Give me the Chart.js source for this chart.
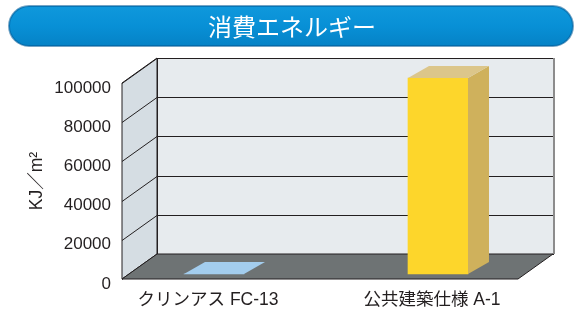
<!DOCTYPE html>
<html>
<head>
<meta charset="utf-8">
<script src="https://cdn.jsdelivr.net/npm/chart.js@4"></script>
<style>
  html, body { margin: 0; padding: 0; background: #ffffff; }
  #wrap { width: 575px; height: 317px; position: relative; }
</style>
</head>
<body>
<div id="wrap"><canvas id="chart"></canvas></div>
<script>
/* Consumo de energía — barras 3D */

const chartTitle  = '消費エネルギー';
const categories  = ['クリンアス FC-13', '公共建築仕様 A-1'];
const energyVals  = [0, 100000];
const yTickVals   = [0, 20000, 40000, 60000, 80000, 100000];
const yAxisLabel  = 'KJ／m²';

const FRONT_COLORS = ['#a3cdee', '#fdd62b'];
const TOP_COLORS   = ['#a3cdee', '#dcc68a'];
const SIDE_COLORS  = ['#a3cdee', '#cfb15c'];

const INK   = '#231f20';
const FONT  = '"Liberation Sans", "Noto Sans CJK JP", sans-serif';

// profundidad de la "caja" y de las barras
const ROOM_DX = 35, ROOM_DY = -25;
const BAR_SHIFT_X = 6, BAR_SHIFT_Y = -5;
const BAR_DX = 21, BAR_DY = -12;

const titlePill = {
  id: 'titlePill',
  beforeDraw(chart) {
    const { ctx, width } = chart;
    const x = 9, y = 6, w = width - 11, h = 40, r = 20;
    ctx.save();
    const g = ctx.createLinearGradient(0, y, 0, y + h);
    g.addColorStop(0,    '#0f98dc');
    g.addColorStop(0.5,  '#0890d6');
    g.addColorStop(1,    '#0582c6');
    ctx.beginPath();
    ctx.roundRect(x, y, w, h, r);
    ctx.fillStyle = g;
    ctx.fill();
    ctx.lineWidth = 2;
    ctx.strokeStyle = 'rgba(2, 90, 150, 0.55)';
    ctx.stroke();
    ctx.fillStyle = '#ffffff';
    ctx.font = '24px "Noto Sans CJK JP", sans-serif';
    ctx.textAlign = 'center';
    ctx.textBaseline = 'middle';
    ctx.fillText(chartTitle, 292, y + h / 2 + 1);
    ctx.restore();
  }
};

const room3d = {
  id: 'room3d',
  beforeDatasetsDraw(chart) {
    const { ctx, chartArea: { left, right, top, bottom }, scales: { y } } = chart;
    ctx.save();
    ctx.lineWidth = 1;
    ctx.strokeStyle = INK;

    // pared izquierda
    ctx.beginPath();
    ctx.moveTo(left, bottom);
    ctx.lineTo(left, top);
    ctx.lineTo(left + ROOM_DX, top + ROOM_DY);
    ctx.lineTo(left + ROOM_DX, bottom + ROOM_DY);
    ctx.closePath();
    ctx.fillStyle = '#d5dde3';
    ctx.fill();
    ctx.stroke();

    // pared del fondo
    ctx.fillStyle = '#e7ebee';
    ctx.fillRect(left + ROOM_DX, top + ROOM_DY, right - left, bottom - top);
    ctx.strokeRect(left + ROOM_DX + 0.5, top + ROOM_DY + 0.5, right - left, bottom - top);
    ctx.save();
    ctx.strokeStyle = '#8c8c8c';
    ctx.lineWidth = 2;
    ctx.beginPath();
    ctx.moveTo(right + ROOM_DX + 1, top + ROOM_DY);
    ctx.lineTo(right + ROOM_DX + 1, bottom + ROOM_DY);
    ctx.stroke();
    ctx.restore();

    // líneas de cuadrícula
    yTickVals.forEach(v => {
      const py = Math.round(y.getPixelForValue(v)) + 0.5;
      ctx.beginPath();
      ctx.moveTo(left, py);
      ctx.lineTo(left + ROOM_DX, py + ROOM_DY);
      ctx.lineTo(right + ROOM_DX, py + ROOM_DY);
      ctx.stroke();
    });

    // suelo
    ctx.beginPath();
    ctx.moveTo(left, bottom);
    ctx.lineTo(right, bottom);
    ctx.lineTo(right + ROOM_DX, bottom + ROOM_DY);
    ctx.lineTo(left + ROOM_DX, bottom + ROOM_DY);
    ctx.closePath();
    ctx.fillStyle = '#6e7374';
    ctx.fill();
    ctx.stroke();

    ctx.restore();

    // las barras se dibujan un poco hacia el fondo
    ctx.save();
    ctx.translate(BAR_SHIFT_X, BAR_SHIFT_Y);
  },
  afterDatasetsDraw(chart) {
    const { ctx } = chart;
    const meta = chart.getDatasetMeta(0);
    meta.data.forEach((bar, i) => {
      const { x, y, base, width } = bar.getProps(['x', 'y', 'base', 'width'], true);
      const xl = x - width / 2, xr = x + width / 2;
      // lateral
      if (base - y > 0.5) {
        ctx.beginPath();
        ctx.moveTo(xr, y);
        ctx.lineTo(xr + BAR_DX, y + BAR_DY);
        ctx.lineTo(xr + BAR_DX, base + BAR_DY);
        ctx.lineTo(xr, base);
        ctx.closePath();
        ctx.fillStyle = SIDE_COLORS[i];
        ctx.fill();
      }
      // tapa
      ctx.beginPath();
      ctx.moveTo(xl, y);
      ctx.lineTo(xr, y);
      ctx.lineTo(xr + BAR_DX, y + BAR_DY);
      ctx.lineTo(xl + BAR_DX, y + BAR_DY);
      ctx.closePath();
      ctx.fillStyle = TOP_COLORS[i];
      ctx.fill();
    });
    ctx.restore();
  }
};

new Chart(document.getElementById('chart'), {
  type: 'bar',
  data: {
    datasets: [{
      data: energyVals.map((v, i) => ({ x: i, y: v })),
      backgroundColor: FRONT_COLORS,
      borderWidth: 0,
      barThickness: 60,
      clip: false,
    }]
  },
  options: {
    responsive: true,
    maintainAspectRatio: false,
    animation: false,
    layout: { padding: { left: 20, right: 57, top: 83, bottom: 0 } },
    plugins: {
      legend:  { display: false },
      tooltip: { enabled: false },
    },
    scales: {
      x: {
        type: 'linear',
        offset: false,
        min: -0.384,
        max: 1.384,
        grid:   { display: false, drawTicks: false },
        border: { display: false },
        afterBuildTicks: s => { s.ticks = categories.map((_, i) => ({ value: i })); },
        afterFit: s => { s.height = 38; },
        ticks: {
          color: INK,
          padding: 11,
          maxRotation: 0,
          font: { family: FONT, size: 17.5 },
          callback: v => categories[v],
        },
      },
      y: {
        min: 0,
        max: 100000,
        grid:   { display: false, drawTicks: false },
        border: { display: false },
        afterBuildTicks: s => { s.ticks = yTickVals.map(v => ({ value: v })); },
        afterFit: s => { s.width = 102; },
        ticks: {
          color: INK,
          padding: 11,
          labelOffset: 5,
          font: { family: FONT, size: 17 },
          callback: v => String(v),
        },
        title: {
          display: true,
          text: yAxisLabel,
          color: INK,
          padding: { top: 7, bottom: 0 },
          font: { family: FONT, size: 17.5 },
        },
      },
    },
  },
  plugins: [titlePill, room3d],
});
</script>
</body>
</html>
